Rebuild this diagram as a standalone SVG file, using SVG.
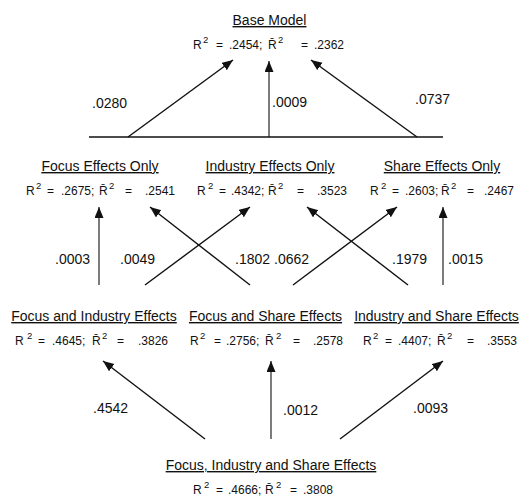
<svg xmlns="http://www.w3.org/2000/svg" width="522" height="498" viewBox="0 0 522 498">
<defs>
<marker id="ah" markerUnits="userSpaceOnUse" markerWidth="12" markerHeight="10" refX="11" refY="4.5" orient="auto">
<path d="M0,0 L11,4.5 L0,9 z" fill="#111"/>
</marker>
<style>
text{font-family:"Liberation Sans",Arial,sans-serif;fill:#111}
.t{font-size:14px;text-anchor:middle;text-decoration:underline}
.r{font-size:12px}
.s{font-size:9.5px}
.n{font-size:14px}
.a{stroke:#111;stroke-width:1.4;fill:none;marker-end:url(#ah)}
.v{stroke:#111;stroke-width:1.1;fill:none;marker-end:url(#ah)}
</style>
</defs>
<rect width="522" height="498" fill="#fff"/>

<g id="base">
<text class="t" x="269.5" y="25">Base Model</text>
<text class="r" y="49"><tspan x="193">R</tspan><tspan class="s" x="203" dy="-6">2</tspan><tspan x="216" dy="6">=</tspan><tspan x="229">.2454;</tspan><tspan x="268">R̄</tspan><tspan class="s" x="278" dy="-6">2</tspan><tspan x="301" dy="6">=</tspan><tspan x="314">.2362</tspan></text>
</g>

<g id="focus">
<text class="t" x="100" y="171">Focus Effects Only</text>
<text class="r" y="195"><tspan x="26">R</tspan><tspan class="s" x="36" dy="-6">2</tspan><tspan x="47" dy="6">=</tspan><tspan x="61">.2675;</tspan><tspan x="99">R̄</tspan><tspan class="s" x="109" dy="-6">2</tspan><tspan x="125" dy="6">=</tspan><tspan x="145">.2541</tspan></text>
</g>
<g id="industry">
<text class="t" x="270" y="171">Industry Effects Only</text>
<text class="r" y="195"><tspan x="197">R</tspan><tspan class="s" x="208" dy="-6">2</tspan><tspan x="219" dy="6">=</tspan><tspan x="231">.4342;</tspan><tspan x="268">R̄</tspan><tspan class="s" x="278" dy="-6">2</tspan><tspan x="297" dy="6">=</tspan><tspan x="317">.3523</tspan></text>
</g>
<g id="share">
<text class="t" x="442" y="171">Share Effects Only</text>
<text class="r" y="195"><tspan x="370">R</tspan><tspan class="s" x="381" dy="-6">2</tspan><tspan x="392" dy="6">=</tspan><tspan x="405">.2603;</tspan><tspan x="441">R̄</tspan><tspan class="s" x="451" dy="-6">2</tspan><tspan x="467" dy="6">=</tspan><tspan x="484">.2467</tspan></text>
</g>

<g id="focus-industry">
<text class="t" x="94" y="321">Focus and Industry Effects</text>
<text class="r" y="345"><tspan x="15">R</tspan><tspan class="s" x="27" dy="-6">2</tspan><tspan x="38" dy="6">=</tspan><tspan x="52">.4645;</tspan><tspan x="92">R̄</tspan><tspan class="s" x="102" dy="-6">2</tspan><tspan x="117" dy="6">=</tspan><tspan x="138">.3826</tspan></text>
</g>
<g id="focus-share">
<text class="t" x="265.5" y="321">Focus and Share Effects</text>
<text class="r" y="345"><tspan x="190">R</tspan><tspan class="s" x="200" dy="-6">2</tspan><tspan x="214" dy="6">=</tspan><tspan x="226">.2756;</tspan><tspan x="265">R̄</tspan><tspan class="s" x="276" dy="-6">2</tspan><tspan x="293" dy="6">=</tspan><tspan x="313">.2578</tspan></text>
</g>
<g id="industry-share">
<text class="t" x="436.5" y="321">Industry and Share Effects</text>
<text class="r" y="345"><tspan x="363">R</tspan><tspan class="s" x="373" dy="-6">2</tspan><tspan x="385" dy="6">=</tspan><tspan x="398">.4407;</tspan><tspan x="437">R̄</tspan><tspan class="s" x="447" dy="-6">2</tspan><tspan x="467" dy="6">=</tspan><tspan x="487">.3553</tspan></text>
</g>

<g id="all">
<text class="t" x="271" y="470">Focus, Industry and Share Effects</text>
<text class="r" y="494"><tspan x="193">R</tspan><tspan class="s" x="204" dy="-6">2</tspan><tspan x="216" dy="6">=</tspan><tspan x="228">.4666;</tspan><tspan x="265">R̄</tspan><tspan class="s" x="276" dy="-6">2</tspan><tspan x="290" dy="6">=</tspan><tspan x="303">.3808</tspan></text>
</g>

<g id="connectors">
<line x1="89" y1="137" x2="443" y2="137" stroke="#111" stroke-width="1.3"/>
<line class="a" x1="128" y1="137" x2="233" y2="60"/>
<line class="v" x1="269" y1="137" x2="269" y2="61"/>
<line class="a" x1="417" y1="137" x2="311" y2="60"/>

<line class="v" x1="99" y1="285" x2="99" y2="207"/>
<line class="a" x1="145" y1="285" x2="250" y2="207"/>
<line class="a" x1="250" y1="285" x2="150" y2="207"/>
<line class="a" x1="293" y1="285" x2="397" y2="207"/>
<line class="a" x1="408" y1="285" x2="307" y2="207"/>
<line class="v" x1="443" y1="285" x2="443" y2="207"/>

<line class="a" x1="205" y1="439" x2="103" y2="361"/>
<line class="v" x1="271" y1="439" x2="271" y2="361"/>
<line class="a" x1="340" y1="439" x2="443" y2="361"/>

<text class="n" x="92" y="108">.0280</text>
<text class="n" x="272" y="107">.0009</text>
<text class="n" x="415" y="104">.0737</text>
<text class="n" x="55" y="264">.0003</text>
<text class="n" x="120" y="264">.0049</text>
<text class="n" x="235" y="264">.1802</text>
<text class="n" x="274" y="264">.0662</text>
<text class="n" x="392" y="264">.1979</text>
<text class="n" x="448" y="264">.0015</text>
<text class="n" x="93" y="413">.4542</text>
<text class="n" x="283" y="415">.0012</text>
<text class="n" x="413" y="413">.0093</text>
</g>
</svg>
